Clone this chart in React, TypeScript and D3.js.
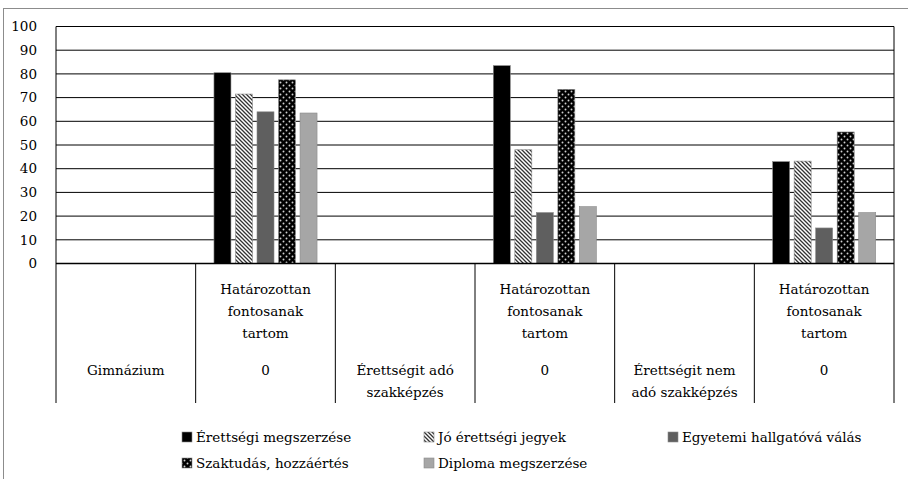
import * as d3 from 'd3';

const groups = ['Gimnázium', 'Érettségit adó szakképzés', 'Érettségit nem adó szakképzés'];
const groupLines = [['Gimnázium'], ['Érettségit adó', 'szakképzés'], ['Érettségit nem', 'adó szakképzés']];
const subLabelLines = ['Határozottan', 'fontosanak', 'tartom'];
const subValueLabel = '0';

const seriesNames = [
  'Érettségi megszerzése',
  'Jó érettségi jegyek',
  'Egyetemi hallgatóvá válás',
  'Szaktudás, hozzáértés',
  'Diploma megszerzése',
];
// one value per group, per series
const erettsegi = [80.5, 83.5, 43];
const joJegyek = [71.5, 48, 43.2];
const egyetemi = [64, 21.5, 15];
const szaktudas = [77.5, 73.5, 55.5];
const diploma = [63.5, 24, 21.5];
const seriesValues = [erettsegi, joJegyek, egyetemi, szaktudas, diploma];

const yTicks = [0, 10, 20, 30, 40, 50, 60, 70, 80, 90, 100];

const W = 908;
const H = 479;
const left = 56;
const right = 894;
const top = 26.5;
const zeroY = 263.5;
const axisBottom = 403;
const font = 'DejaVu Serif';

const fills = ['#000000', 'url(#hatch)', '#5f5f5f', 'url(#dots)', '#a6a6a6'];

export default function App() {
  // six cells: group label cell, then the sub-category cell holding the bars
  const cells = d3.range(groups.length * 2).map(String);
  const x0 = d3.scaleBand<string>().domain(cells).range([left, right]);
  const x1 = d3
    .scaleBand<string>()
    .domain(seriesNames)
    .range([0, x0.bandwidth()])
    .paddingInner(0.21)
    .paddingOuter(0.85);
  const y = d3.scaleLinear().domain([0, 100]).range([zeroY, top]);

  const legendCols = [182, 424, 668];
  const legendRows = [437, 463];
  const txt = { fontFamily: font, fontSize: 13.5 };

  return (
    <svg
      width={W}
      height={H}
      style={{ position: 'absolute', left: 0, top: 0, background: '#fff', fontFamily: font }}
    >
      <defs>
        <pattern id="hatch" patternUnits="userSpaceOnUse" width="4" height="4">
          <rect width="4" height="4" fill="#fff" />
          <path d="M-1,-1 L5,5 M-1,3 L1,5 M3,-1 L5,1" stroke="#333" strokeWidth="1.3" />
        </pattern>
        <pattern id="dots" patternUnits="userSpaceOnUse" width="6" height="6">
          <rect width="6" height="6" fill="#000" />
          <circle cx="1.5" cy="1.5" r="0.95" fill="#d0d0d0" />
          <circle cx="4.5" cy="4.5" r="0.95" fill="#d0d0d0" />
        </pattern>
      </defs>

      <rect x={3.5} y={8.5} width={W} height={H} fill="#fff" stroke="#8c8c8c" />

      {/* gridlines */}
      {yTicks.map((t) => (
        <line key={t} x1={left} x2={right} y1={y(t)} y2={y(t)} stroke="#000" strokeWidth={1} />
      ))}
      {yTicks.map((t) => (
        <text key={'l' + t} x={37} y={y(t)} dy="0.35em" textAnchor="end" style={txt} fill="#000">
          {t}
        </text>
      ))}

      {/* bars */}
      {groups.map((g, gi) => {
        const cx = x0(String(gi * 2 + 1)) || 0;
        return seriesNames.map((s, si) => {
          const v = seriesValues[si][gi];
          return (
            <rect
              key={g + s}
              x={cx + (x1(s) || 0)}
              y={y(v)}
              width={x1.bandwidth()}
              height={zeroY - y(v)}
              fill={fills[si]}
              stroke="#8a8a8a"
              strokeWidth={0.6}
            />
          );
        });
      })}

      {/* plot frame and category dividers */}
      <line x1={left} x2={left} y1={top} y2={axisBottom} stroke="#000" />
      <line x1={right} x2={right} y1={top} y2={axisBottom} stroke="#000" />
      <line x1={left} x2={right} y1={zeroY} y2={zeroY} stroke="#000" strokeWidth={1.5} />
      {cells.slice(1).map((c) => (
        <line key={'d' + c} x1={x0(c)} x2={x0(c)} y1={zeroY} y2={axisBottom} stroke="#000" />
      ))}

      {/* category labels */}
      {groups.map((g, gi) => {
        const gx = (x0(String(gi * 2)) || 0) + x0.bandwidth() / 2;
        const sx = (x0(String(gi * 2 + 1)) || 0) + x0.bandwidth() / 2;
        return (
          <g key={'c' + g} fill="#000" textAnchor="middle">
            {groupLines[gi].map((ln, li) => (
              <text key={ln} x={gx} y={370 + li * 22} dy="0.35em" style={txt}>
                {ln}
              </text>
            ))}
            {subLabelLines.map((ln, li) => (
              <text key={ln} x={sx} y={289 + li * 22} dy="0.35em" style={txt}>
                {ln}
              </text>
            ))}
            <text x={sx} y={370} dy="0.35em" style={txt}>
              {subValueLabel}
            </text>
          </g>
        );
      })}

      {/* legend */}
      {seriesNames.map((s, si) => {
        const lx = legendCols[si % 3];
        const ly = legendRows[Math.floor(si / 3)];
        return (
          <g key={'lg' + s}>
            <rect x={lx} y={ly - 5} width={10} height={10} fill={fills[si]} stroke="#8a8a8a" strokeWidth={0.6} />
            <text x={lx + 14} y={ly} dy="0.35em" style={txt} fill="#000">
              {s}
            </text>
          </g>
        );
      })}
    </svg>
  );
}
